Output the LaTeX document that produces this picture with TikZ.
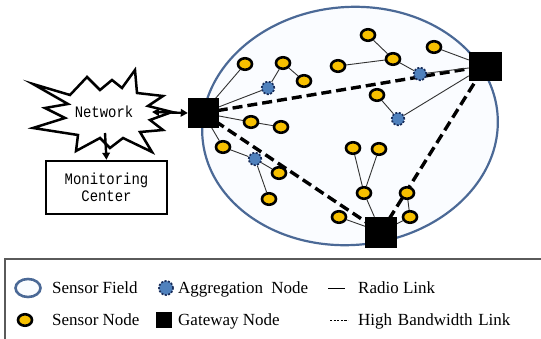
\documentclass[tikz,border=0pt]{standalone}
\usepackage{fontspec}
\setmainfont{Liberation Serif}
\newfontfamily\netmono[FakeStretch=0.87]{Liberation Mono}
\usetikzlibrary{shapes.geometric,arrows.meta}
\pgfdeclarelayer{fieldlayer}
\pgfdeclarelayer{linklayer}
\pgfsetlayers{fieldlayer,linklayer,main}
\definecolor{sensorfill}{RGB}{247,192,0}
\definecolor{aggfill}{RGB}{79,129,189}
\definecolor{aggdraw}{RGB}{25,45,90}
\definecolor{fieldfill}{RGB}{250,252,255}
\definecolor{fielddraw}{RGB}{75,105,150}
\definecolor{linkgray}{RGB}{50,50,50}
\definecolor{legendgray}{RGB}{90,90,90}
\begin{document}
\begin{tikzpicture}[x=1pt,y=-1pt,
  sensor/.style={ellipse, draw=black, line width=2.6pt, fill=sensorfill, minimum width=14pt, minimum height=11.5pt, inner sep=0pt},
  aggr/.style={circle, draw=aggdraw, line width=1.7pt, dash pattern=on 2pt off 1.5pt, fill=aggfill, minimum size=12.5pt, inner sep=0pt},
  gateway/.style={rectangle, fill=black, draw=black, minimum width=30pt, minimum height=29pt, inner sep=0pt},
  radio/.style={draw=linkgray, line width=0.9pt},
  hbw/.style={draw=black, line width=3.4pt, dash pattern=on 10pt off 5pt},
  bigarrow/.style={line width=2.4pt, -{Triangle[length=7pt,width=7.5pt]}},
  monotext/.style={font=\netmono\fontsize{16}{17}\selectfont, align=center, inner sep=0pt},
  legtext/.style={font=\fontsize{17}{20}\selectfont, anchor=base west, inner sep=0pt}]
\useasboundingbox (0,0) rectangle (541,339);

% sensor field
\begin{pgfonlayer}{fieldlayer}
\draw[fill=fieldfill, draw=fielddraw, line width=2.2pt, rotate around={4.5:(350,126)}] (350,126) ellipse [x radius=148, y radius=119];
\end{pgfonlayer}

% gateways
\node[gateway] (g1) at (203,113) {};
\node[gateway, minimum width=32pt, minimum height=28pt] (g2) at (485,66) {};
\node[gateway, minimum width=31pt, minimum height=30pt] (g3) at (381,232) {};

% sensors
\node[sensor] (s1) at (245,64) {};
\node[sensor] (s2) at (283,63) {};
\node[sensor] (s3) at (304,81) {};
\node[sensor] (s4) at (338,66) {};
\node[sensor] (s5) at (368,35) {};
\node[sensor] (s6) at (393,59) {};
\node[sensor] (s7) at (434,47) {};
\node[sensor] (s8) at (377,95) {};
\node[sensor] (s9) at (251,122) {};
\node[sensor] (s10) at (281,127) {};
\node[sensor] (s11) at (223,147) {};
\node[sensor] (s12) at (279,173) {};
\node[sensor] (s13) at (269,199) {};
\node[sensor] (s14) at (353,148) {};
\node[sensor] (s15) at (379,149) {};
\node[sensor] (s16) at (364,193) {};
\node[sensor] (s17) at (407,193) {};
\node[sensor] (s18) at (410,217) {};
\node[sensor] (s19) at (339,217) {};

% aggregation nodes
\node[aggr] (a1) at (268,88) {};
\node[aggr] (a2) at (255,159) {};
\node[aggr] (a3) at (420,74) {};
\node[aggr] (a4) at (398,119) {};

% links
\begin{pgfonlayer}{linklayer}
\draw[hbw] (g1.center) -- (g2.center);
\draw[hbw] (g1.center) -- (g3.center);
\draw[hbw] (g3.center) -- (g2.center);
\draw[radio] (g1) -- (s1);
\draw[radio] (g1) -- (a1);
\draw[radio] (a1) -- (s2);
\draw[radio] (s2) -- (s3);
\draw[radio] (g1) -- (s9);
\draw[radio] (s9) -- (s10);
\draw[radio] (g1) -- (s11);
\draw[radio] (s11) -- (a2);
\draw[radio] (a2) -- (s12);
\draw[radio] (a2) -- (s13);
\draw[radio] (s4) -- (s6);
\draw[radio] (s5) -- (s6);
\draw[radio] (s6) -- (a3);
\draw[radio] (a3) -- (g2);
\draw[radio] (s7) -- (g2);
\draw[radio] (s8) -- (a4);
\draw[radio] (a4) -- (g2);
\draw[radio] (s14) -- (s16);
\draw[radio] (s15) -- (s16);
\draw[radio] (s16) -- (g3);
\draw[radio] (s17) -- (s18);
\draw[radio] (s18) -- (g3);
\draw[radio] (s19) -- (g3);
\end{pgfonlayer}

% network star
\draw[line width=2.5pt, fill=white, line join=miter]
  (33,84) -- (70,95) -- (87,77) -- (100,90) -- (112,80) -- (122,88) -- (135,70)
  -- (137,93) -- (163,96) -- (148,106) -- (172,112) -- (150,120) -- (163,130)
  -- (140,132) -- (152,152) -- (123,138) -- (110,148) -- (100,138) -- (76,151)
  -- (78,135) -- (33,128) -- (65,118) -- (45,108) -- (68,104) -- cycle;
\node[monotext] (net) at (104,112) {Network};
\coordinate (netE) at (152,112);
\coordinate (netS) at (105,133);

% monitoring center
\node[draw=black, line width=2.5pt, minimum width=121pt, minimum height=53pt, inner sep=0pt] (mc) at (106.5,187.5) {};
\node[monotext] (mctext) at (mc.center) {Monitoring\\Center};

\draw[line width=2.4pt, {Triangle[length=7pt,width=7.5pt]}-{Triangle[length=7pt,width=7.5pt]}] (netE) -- (g1.west);
\draw[bigarrow] (netS) -- (mc.north);

% legend
\coordinate (lbl) at (5,339);
\coordinate (ltl) at (5,259);
\coordinate (ltr) at (541,259);
\draw[draw=legendgray, line width=1.5pt] (lbl) -- (ltl) -- (ltr);

\node[ellipse, draw=fielddraw, fill=fieldfill, line width=2.6pt, minimum width=25pt, minimum height=18pt, inner sep=0pt] (lfield) at (28,288) {};
\node[legtext] (tfield) at (52,293) {Sensor Field};
\node[aggr, minimum size=14pt] (lagg) at (166,288) {};
\node[legtext] (tagg) at (178,293) {Aggregation\hspace{4pt} Node};
\coordinate (lr1) at (328,288);
\coordinate (lr2) at (345,288);
\draw[draw=black, line width=0.9pt] (lr1) -- (lr2);
\node[legtext] (tradio) at (358,293) {Radio Link};

\node[sensor] (lsensor) at (25,320) {};
\node[legtext] (tsensor) at (52,325) {Sensor Node};
\node[rectangle, fill=black, minimum size=16pt, inner sep=0pt] (lgw) at (164,320) {};
\node[legtext] (tgw) at (178,325) {Gateway Node};
\coordinate (lh1) at (330,320);
\coordinate (lh2) at (348,320);
\draw[draw=black, line width=0.9pt, dash pattern=on 2.2pt off 1.4pt] (lh1) -- (lh2);
\node[legtext] (thbw) at (358,325) {High\hspace{1.5pt} Bandwidth\hspace{1.5pt} Link};
\end{tikzpicture}
\end{document}
